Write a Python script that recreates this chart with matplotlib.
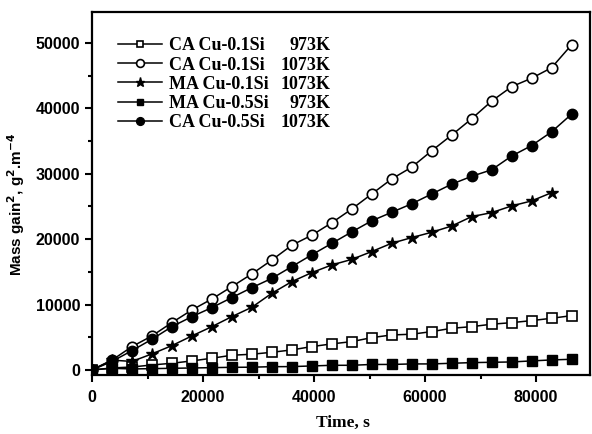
import matplotlib
matplotlib.use("Agg")
import matplotlib.pyplot as plt
from matplotlib.ticker import MultipleLocator

plt.rcParams["font.family"] = ["Liberation Sans", "DejaVu Sans"]
plt.rcParams["font.weight"] = "bold"
plt.rcParams["axes.labelweight"] = "bold"

# time points every hour, s
t = [3600 * i for i in range(25)]

ca01_973 = [0, 300, 450, 760, 1020, 1380, 1790, 2250, 2400, 2700, 3060, 3570, 3980,
            4330, 4940, 5350, 5460, 5860, 6370, 6620, 6990, 7230, 7540, 7900, 8300]
ca01_1073 = [0, 1500, 3570, 5200, 7240, 9170, 10850, 12740, 14680, 16800, 19060, 20600,
             22500, 24600, 26900, 29200, 31000, 33500, 35900, 38400, 41100, 43300,
             44600, 46200, 49700]
ma01_1073 = [0, 1500, 1300, 2450, 3720, 5200, 6620, 8150, 9580, 11720, 13500, 14880,
             16050, 16900, 18100, 19370, 20230, 21050, 22000, 23440, 24050, 25070,
             25840, 27100]
ma05_973 = [0, 250, 150, 200, 250, 300, 350, 400, 420, 500, 510, 610, 710, 710, 840,
            840, 920, 920, 1020, 1120, 1170, 1220, 1380, 1530, 1630]
ca05_1073 = [0, 1300, 2950, 4690, 6620, 8150, 9530, 11060, 12580, 14000, 15800, 17600,
             19350, 21100, 22800, 24100, 25400, 26900, 28400, 29600, 30600, 32700,
             34300, 36400, 39100]

names = ["CA Cu-0.1Si", "CA Cu-0.1Si", "MA Cu-0.1Si", "MA Cu-0.5Si", "CA Cu-0.5Si"]
temps = ["973K", "1073K", "1073K", "973K", "1073K"]

fig = plt.figure(figsize=(5.92, 4.34), dpi=100)
ax = fig.add_axes([0.1554, 0.136, 0.841, 0.836])

ax.plot(t, ca01_973, "-s", color="black", mfc="white", ms=6.5, mew=1.2, lw=1.1, label=names[0])
ax.plot(t, ca01_1073, "-o", color="black", mfc="white", ms=7.5, mew=1.2, lw=1.1, label=names[1])
ax.plot(t[:24], ma01_1073, "-*", color="black", ms=9, lw=1.1, label=names[2])
ax.plot(t, ma05_973, "-s", color="black", ms=6.5, lw=1.1, label=names[3])
ax.plot(t, ca05_1073, "-o", color="black", ms=7.5, lw=1.1, label=names[4])

ax.set_xlim(0, 89700)
ax.set_ylim(-770, 54700)
ax.xaxis.set_major_locator(MultipleLocator(20000))
ax.xaxis.set_minor_locator(MultipleLocator(10000))
ax.yaxis.set_major_locator(MultipleLocator(10000))
ax.yaxis.set_minor_locator(MultipleLocator(5000))
ax.tick_params(which="both", direction="out", width=1.5, top=False, right=False, labelsize=11.5)
ax.tick_params(which="major", length=5)
ax.tick_params(which="minor", length=3)
ax.tick_params(axis="x", pad=6)
for s in ax.spines.values():
    s.set_linewidth(1.6)

ax.set_xlabel("Time, s", family="Liberation Serif", fontweight="bold", fontsize=12.5)
ax.xaxis.set_label_coords(0.505, -0.11)
ax.set_ylabel("Mass gain$^\\mathbf{2}$, g$^\\mathbf{2}$.m$^\\mathbf{-4}$", fontsize=11)
ax.yaxis.set_label_coords(-0.13, 0.47)

leg = ax.legend(loc="upper left", frameon=False, bbox_to_anchor=(0.02, 0.975),
                prop={"family": "Liberation Serif", "weight": "bold", "size": 13},
                handlelength=2.4, handletextpad=0.4, labelspacing=0.12, markerscale=0.75)

# temperature column, right aligned next to each legend entry
fig.canvas.draw()
inv = fig.transFigure.inverted()
for txt, temp in zip(leg.get_texts(), temps):
    bb = txt.get_window_extent()
    yc = (bb.y0 + bb.y1) / 2
    x, y = inv.transform((330, yc))
    fig.text(x, y, temp, ha="right", va="center", family="Liberation Serif",
             fontweight="bold", fontsize=13)

plt.savefig("out.png", dpi=100)
